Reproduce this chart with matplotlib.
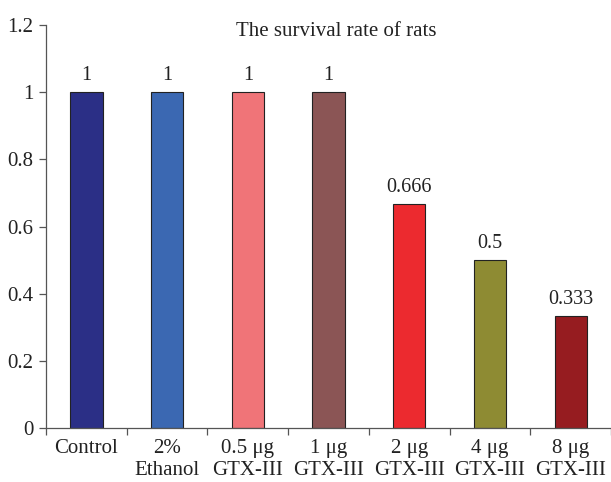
import numpy as np
import matplotlib
matplotlib.use("Agg")
import matplotlib.pyplot as plt

groups = ["Control", "2%\nEthanol", "0.5 \u03bcg\nGTX-III", "1 \u03bcg\nGTX-III",
          "2 \u03bcg\nGTX-III", "4 \u03bcg\nGTX-III", "8 \u03bcg\nGTX-III"]
survival = [1, 1, 1, 1, 0.666, 0.5, 0.333]
value_labels = ["1", "1", "1", "1", "0.666", "0.5", "0.333"]
colors = ["#2B2F86", "#3B68B2", "#F07478", "#8B5555", "#EC2A2F", "#8E8B33", "#961C20"]

plt.rcParams["font.family"] = "Liberation Serif"
fig = plt.figure(figsize=(6.11, 4.82), dpi=100)
ax = fig.add_axes([0.0753, 0.112, 0.9247, 0.836])

x = np.arange(len(groups))
ax.bar(x, survival, width=0.4, color=colors, edgecolor="#222222", linewidth=0.8)

for xi, v, lab in zip(x, survival, value_labels):
    ax.text(xi, v + 0.022, lab, ha="center", va="bottom", fontsize=14.5, color="#222222")

ax.set_xlim(-0.5, 6.46)
ax.set_ylim(0, 1.2)
ax.set_yticks([0, 0.2, 0.4, 0.6, 0.8, 1, 1.2])
ax.set_yticklabels(["0", "0.2", "0.4", "0.6", "0.8", "1", "1.2"])
ax.set_xticks(x)
ax.set_xticklabels(groups, linespacing=1.2)
ax.set_xticks(np.arange(-0.5, 7, 1), minor=True)
ax.tick_params(axis="x", which="major", length=0, labelsize=15, pad=8, colors="#222222")
ax.tick_params(axis="x", which="minor", length=5, width=0.9, color="#555555")
ax.tick_params(axis="y", length=5, width=0.9, color="#555555", labelsize=15, labelcolor="#222222", pad=4)

for s in ["top", "right"]:
    ax.spines[s].set_visible(False)
for s in ["left", "bottom"]:
    ax.spines[s].set_color("#555555")
    ax.spines[s].set_linewidth(0.9)

ax.text(0.513, 0.985, "The survival rate of rats", transform=ax.transAxes,
        ha="center", va="center", fontsize=15, color="#222222")

fig.savefig("out.png", dpi=100)
